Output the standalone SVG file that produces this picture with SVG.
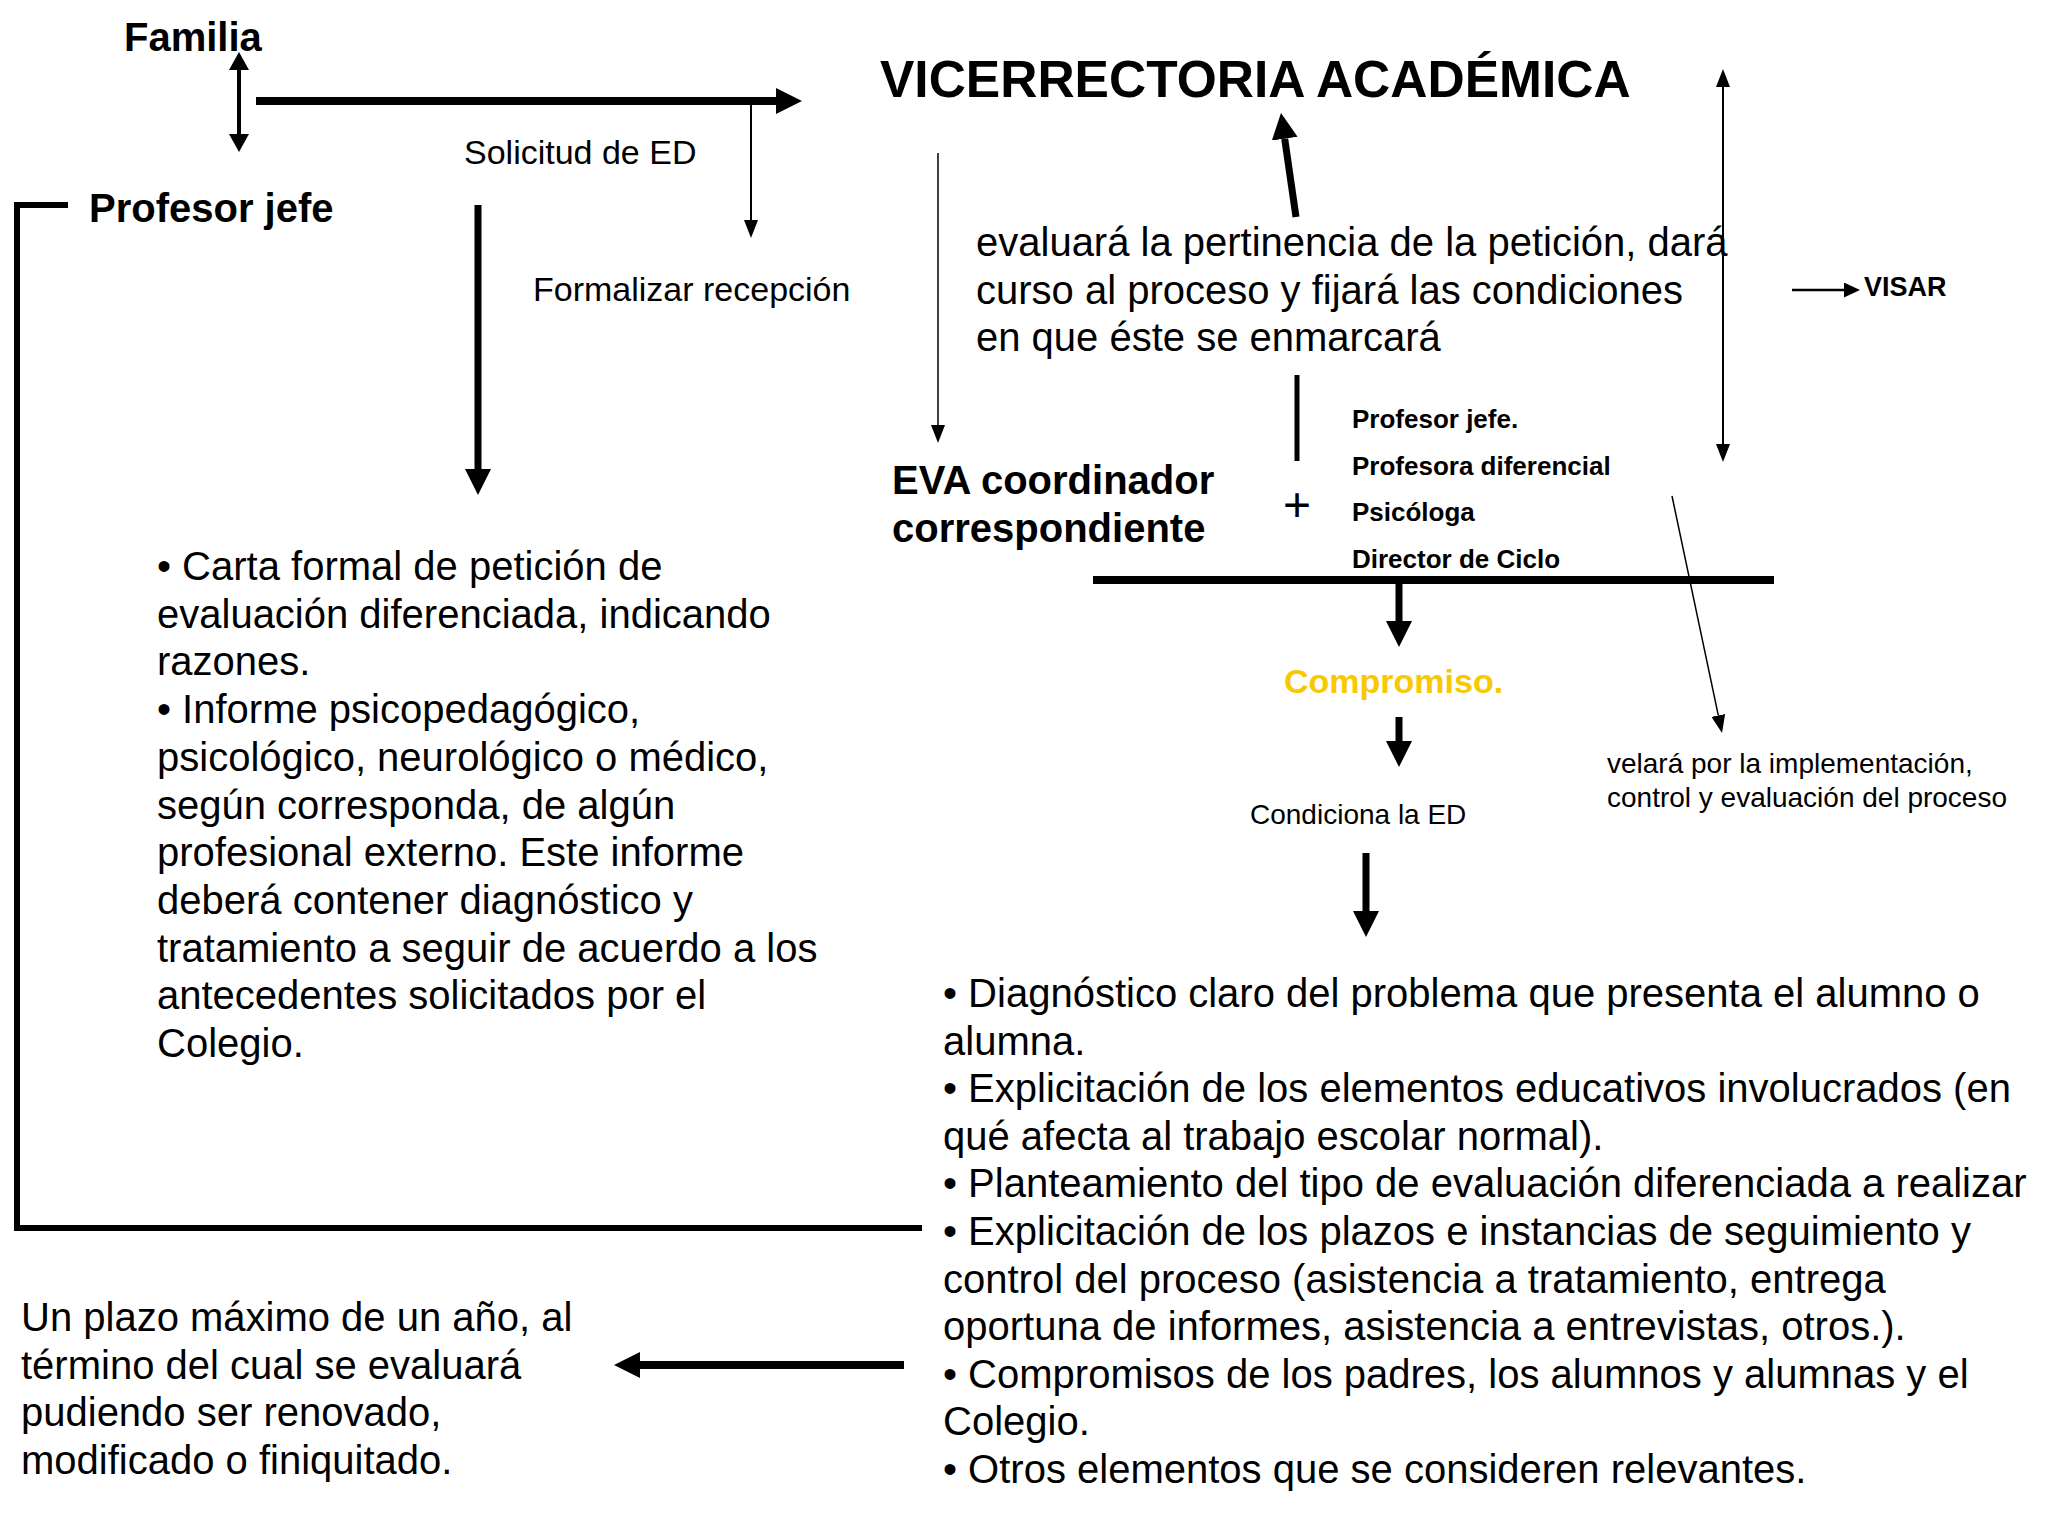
<svg xmlns="http://www.w3.org/2000/svg" width="2048" height="1536" viewBox="0 0 2048 1536">
<style>
text{font-family:"Liberation Sans",Arial,sans-serif;fill:#000}
.b{font-weight:bold}
.t40{font-size:40px}
.t34{font-size:34px}
.t28{font-size:28px}
.t26{font-size:26px}
.ln{stroke:#000;fill:none}
</style>
<defs>
<marker id="big" markerUnits="userSpaceOnUse" markerWidth="26" markerHeight="26" viewBox="0 0 26 26" refX="0" refY="13" orient="auto"><path d="M0,0 L26,13 L0,26 z" fill="#000"/></marker>
<marker id="med" markerUnits="userSpaceOnUse" markerWidth="18" markerHeight="20" viewBox="0 0 18 20" refX="0" refY="10" orient="auto-start-reverse"><path d="M0,0 L18,10 L0,20 z" fill="#000"/></marker>
<marker id="sm" markerUnits="userSpaceOnUse" markerWidth="18" markerHeight="14" viewBox="0 0 18 14" refX="0" refY="7" orient="auto-start-reverse"><path d="M0,0 L18,7 L0,14 z" fill="#000"/></marker>
<marker id="vis" markerUnits="userSpaceOnUse" markerWidth="16" markerHeight="15" viewBox="0 0 16 15" refX="0" refY="7.5" orient="auto"><path d="M0,0 L16,7.5 L0,15 z" fill="#000"/></marker>
</defs>
<rect width="2048" height="1536" fill="#fff"/>

<g id="connectors">
<line class="ln" x1="239" y1="70" x2="239" y2="134" stroke-width="4" marker-start="url(#med)" marker-end="url(#med)"/>
<line class="ln" x1="256" y1="101" x2="776" y2="101" stroke-width="8" marker-end="url(#big)"/>
<line class="ln" x1="751" y1="101" x2="751" y2="220" stroke-width="2" marker-end="url(#sm)"/>
<line class="ln" x1="478" y1="205" x2="478" y2="469" stroke-width="7" marker-end="url(#big)"/>
<polyline class="ln" points="68,205 17,205 17,1228 922,1228" stroke-width="6"/>
<line class="ln" x1="904" y1="1365" x2="640" y2="1365" stroke-width="8" marker-end="url(#big)"/>
<line class="ln" x1="1296" y1="217" x2="1284.7" y2="138.7" stroke-width="7" marker-end="url(#big)"/>
<line class="ln" x1="938" y1="153" x2="938" y2="425" stroke-width="1.5" marker-end="url(#sm)"/>
<line class="ln" x1="1297" y1="375" x2="1297" y2="461" stroke-width="5"/>
<line class="ln" x1="1723" y1="87" x2="1723" y2="444" stroke-width="2" marker-start="url(#sm)" marker-end="url(#sm)"/>
<line class="ln" x1="1672" y1="496" x2="1718.3" y2="715.4" stroke-width="1.5" marker-end="url(#sm)"/>
<line class="ln" x1="1093" y1="580" x2="1774" y2="580" stroke-width="8"/>
<line class="ln" x1="1399" y1="584" x2="1399" y2="621" stroke-width="7" marker-end="url(#big)"/>
<line class="ln" x1="1399" y1="717" x2="1399" y2="741" stroke-width="7" marker-end="url(#big)"/>
<line class="ln" x1="1366" y1="853" x2="1366" y2="911" stroke-width="7" marker-end="url(#big)"/>
<line class="ln" x1="1792" y1="290" x2="1844" y2="290" stroke-width="2.5" marker-end="url(#vis)"/>
</g>

<g id="familia"><text class="b t40" x="124" y="51">Familia</text></g>
<g id="profesor-jefe"><text class="b t40" x="89" y="222">Profesor jefe</text></g>
<g id="solicitud"><text class="t34" x="464" y="164">Solicitud de ED</text></g>
<g id="formalizar"><text class="t34" x="533" y="301">Formalizar recepción</text></g>
<g id="vicerrectoria"><text class="b" style="font-size:51.5px" x="880" y="97">VICERRECTORIA ACADÉMICA</text></g>
<g id="evaluara"><text class="t40" x="976" y="256"><tspan x="976">evaluará la pertinencia de la petición, dará</tspan><tspan x="976" dy="47.5">curso al proceso y fijará las condiciones</tspan><tspan x="976" dy="47.5">en que éste se enmarcará</tspan></text></g>
<g id="plus"><text style="font-size:48px" x="1297" y="521" text-anchor="middle">+</text></g>
<g id="equipo"><text class="b t26" x="1352" y="428"><tspan x="1352">Profesor jefe.</tspan><tspan x="1352" dy="46.5">Profesora diferencial</tspan><tspan x="1352" dy="46.5">Psicóloga</tspan><tspan x="1352" dy="46.5">Director de Ciclo</tspan></text></g>
<g id="eva"><text class="b t40" x="892" y="494"><tspan x="892">EVA coordinador</tspan><tspan x="892" dy="48">correspondiente</tspan></text></g>
<g id="visar"><text class="b" style="font-size:27px" x="1864" y="296">VISAR</text></g>
<g id="compromiso"><text class="b t34" x="1284" y="693" style="fill:#F8C800">Compromiso.</text></g>
<g id="condiciona"><text class="t28" x="1250" y="824">Condiciona la ED</text></g>
<g id="velara"><text class="t28" x="1607" y="773"><tspan x="1607">velará por la implementación,</tspan><tspan x="1607" dy="34">control y evaluación del proceso</tspan></text></g>
<g id="requisitos"><text class="t40" x="157" y="580"><tspan x="157">• Carta formal de petición de</tspan><tspan x="157" dy="47.7">evaluación diferenciada, indicando</tspan><tspan x="157" dy="47.7">razones.</tspan><tspan x="157" dy="47.7">• Informe psicopedagógico,</tspan><tspan x="157" dy="47.7">psicológico, neurológico o médico,</tspan><tspan x="157" dy="47.7">según corresponda, de algún</tspan><tspan x="157" dy="47.7">profesional externo. Este informe</tspan><tspan x="157" dy="47.7">deberá contener diagnóstico y</tspan><tspan x="157" dy="47.7">tratamiento a seguir de acuerdo a los</tspan><tspan x="157" dy="47.7">antecedentes solicitados por el</tspan><tspan x="157" dy="47.7">Colegio.</tspan></text></g>
<g id="contenido"><text class="t40" x="943" y="1007"><tspan x="943">• Diagnóstico claro del problema que presenta el alumno o</tspan><tspan x="943" dy="47.6">alumna.</tspan><tspan x="943" dy="47.6">• Explicitación de los elementos educativos involucrados (en</tspan><tspan x="943" dy="47.6">qué afecta al trabajo escolar normal).</tspan><tspan x="943" dy="47.6">• Planteamiento del tipo de evaluación diferenciada a realizar</tspan><tspan x="943" dy="47.6">• Explicitación de los plazos e instancias de seguimiento y</tspan><tspan x="943" dy="47.6">control del proceso (asistencia a tratamiento, entrega</tspan><tspan x="943" dy="47.6">oportuna de informes, asistencia a entrevistas, otros.).</tspan><tspan x="943" dy="47.6">• Compromisos de los padres, los alumnos y alumnas y el</tspan><tspan x="943" dy="47.6">Colegio.</tspan><tspan x="943" dy="47.6">• Otros elementos que se consideren relevantes.</tspan></text></g>
<g id="plazo"><text class="t40" x="21" y="1331"><tspan x="21">Un plazo máximo de un año, al</tspan><tspan x="21" dy="47.5">término del cual se evaluará</tspan><tspan x="21" dy="47.5">pudiendo ser renovado,</tspan><tspan x="21" dy="47.5">modificado o finiquitado.</tspan></text></g>
</svg>
